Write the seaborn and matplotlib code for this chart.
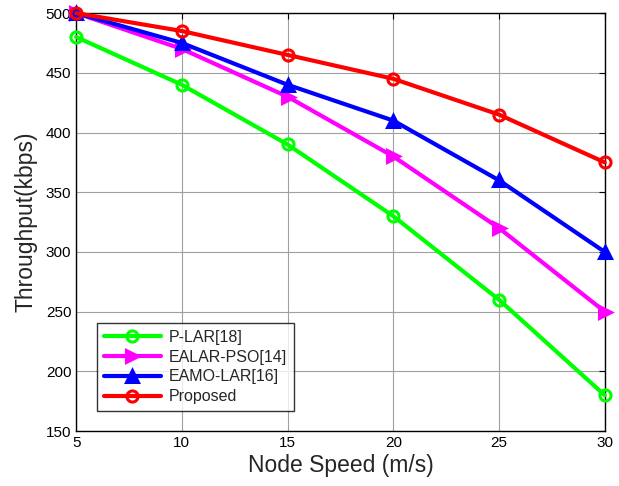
import numpy as np
import pandas as pd
import seaborn as sns
import matplotlib
matplotlib.use('Agg')
import matplotlib.pyplot as plt

# node speed (m/s)
speed = [5, 10, 15, 20, 25, 30]

# throughput (kbps)
p_lar = [480, 440, 390, 330, 260, 180]
ealar_pso = [500, 470, 430, 380, 320, 250]
eamo_lar = [500, 475, 440, 410, 360, 300]
proposed = [500, 485, 465, 445, 415, 375]

series_names = ['P-LAR[18]', 'EALAR-PSO[14]', 'EAMO-LAR[16]', 'Proposed']
series_values = [p_lar, ealar_pso, eamo_lar, proposed]
series_colors = ['#00ff00', '#ff00ff', '#0000ff', '#ff0000']
series_markers = ['o', '>', '^', 'o']
marker_filled = [False, True, True, False]

x_ticks = [5, 10, 15, 20, 25, 30]
y_ticks = [150, 200, 250, 300, 350, 400, 450, 500]


def main():
    sns.set_style('white')
    plt.rcParams['font.family'] = ['Liberation Sans', 'DejaVu Sans']

    fig = plt.figure(figsize=(6.19, 4.86), dpi=100)
    ax = fig.add_axes([0.123, 0.113, 0.854, 0.86])

    for name, vals, col, mk, filled in zip(series_names, series_values,
                                           series_colors, series_markers, marker_filled):
        df = pd.DataFrame({'speed': speed, 'throughput': vals})
        sns.lineplot(data=df, x='speed', y='throughput', ax=ax, color=col,
                     linewidth=3, marker=mk, markersize=9 if mk != 'o' else 8,
                     markerfacecolor=col if filled else 'none',
                     markeredgecolor=col, markeredgewidth=2.2, label=name,
                     zorder=3, clip_on=False)

    ax.set_xlim(5, 30)
    ax.set_ylim(150, 500)
    ax.set_xticks(x_ticks)
    ax.set_yticks(y_ticks)
    ax.tick_params(direction='in', labelsize=11, length=4, top=True, right=True,
                   colors='black')
    ax.grid(True, color='#a0a0a0', linewidth=0.8)
    for sp in ax.spines.values():
        sp.set_color('black')
        sp.set_linewidth(1.0)

    ax.set_xlabel('Node Speed (m/s)', fontsize=16.5, labelpad=3)
    ax.set_ylabel('Throughput(kbps)', fontsize=16.5, labelpad=6)

    leg = ax.legend(loc='lower left', bbox_to_anchor=(0.025, 0.03), fontsize=11.5,
                    frameon=True, fancybox=False, handlelength=3.6,
                    borderpad=0.4, labelspacing=0.3, handletextpad=0.5)
    leg.get_frame().set_edgecolor('black')
    leg.get_frame().set_linewidth(1.0)

    fig.savefig('out.png', dpi=100)


if __name__ == "__main__":
    main()
